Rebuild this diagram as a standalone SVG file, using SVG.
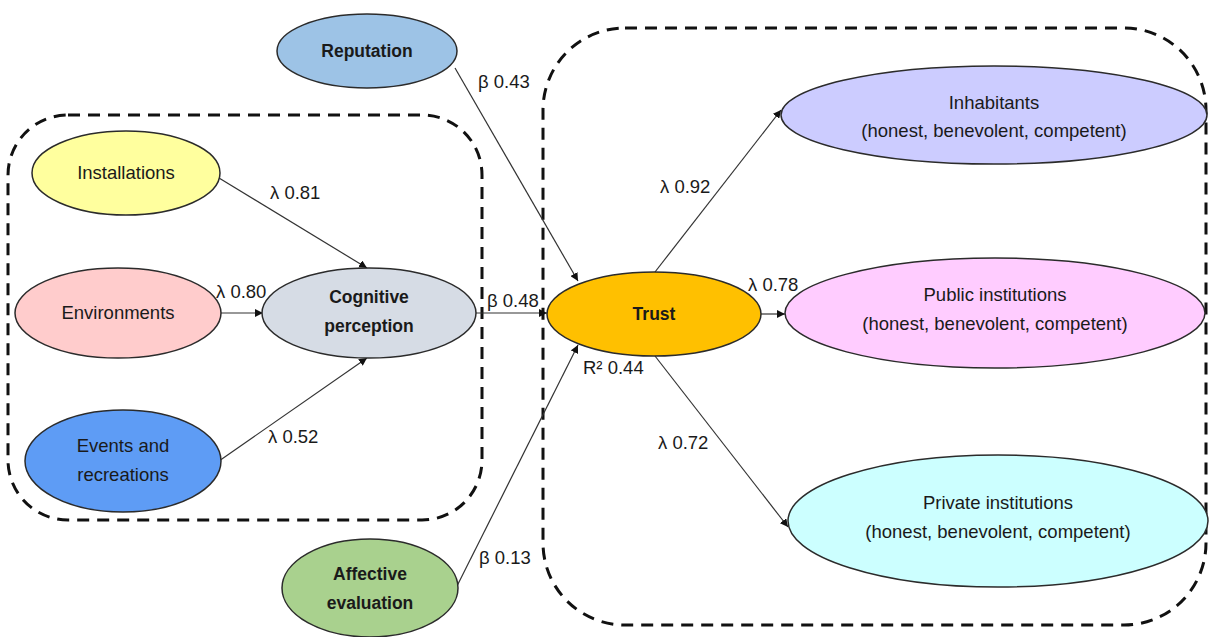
<svg xmlns="http://www.w3.org/2000/svg" width="1209" height="637" viewBox="0 0 1209 637">
<defs>
<marker id="arr" viewBox="0 0 10 10" refX="10" refY="5" markerWidth="8" markerHeight="8" markerUnits="userSpaceOnUse" orient="auto">
<path d="M0,0 L10,5 L0,10 z" fill="#111"/>
</marker>
<style>
.node{stroke:#2b2b2b;stroke-width:1.5}
.t{font-family:"Liberation Sans",Arial,sans-serif;font-size:18.5px;fill:#1a1a1a;text-anchor:middle}
.b{font-weight:bold;font-size:17.5px}
.lbl{font-family:"Liberation Sans",Arial,sans-serif;font-size:18.5px;fill:#1a1a1a}
.box{fill:none;stroke:#111;stroke-width:3;stroke-dasharray:12 8}
.c{stroke:#333;stroke-width:1.2;fill:none;marker-end:url(#arr)}
</style>
</defs>
<rect width="1209" height="637" fill="#fff"/>
<g id="groups">
<rect class="box" x="8" y="115" width="474" height="405" rx="60" ry="60"/>
<rect class="box" x="543" y="28" width="663" height="597" rx="82" ry="82"/>
</g>
<g id="connectors">
<line class="c" x1="455" y1="68" x2="578" y2="281"/>
<line class="c" x1="219" y1="178" x2="367" y2="268"/>
<line class="c" x1="221" y1="313" x2="263" y2="313"/>
<line class="c" x1="219" y1="461" x2="367" y2="358"/>
<line class="c" x1="476" y1="313" x2="547" y2="313"/>
<line class="c" x1="457" y1="586" x2="578" y2="345"/>
<line class="c" x1="655" y1="272" x2="781" y2="110"/>
<line class="c" x1="761" y1="314" x2="785" y2="314"/>
<line class="c" x1="655" y1="356" x2="788" y2="527"/>
</g>
<g id="labels">
<text class="lbl" x="478" y="88">β 0.43</text>
<text class="lbl" x="270" y="199">λ 0.81</text>
<text class="lbl" x="216" y="298">λ 0.80</text>
<text class="lbl" x="487" y="307">β 0.48</text>
<text class="lbl" x="268" y="443">λ 0.52</text>
<text class="lbl" x="479" y="564">β 0.13</text>
<text class="lbl" x="583" y="374">R² 0.44</text>
<text class="lbl" x="660" y="193">λ 0.92</text>
<text class="lbl" x="748" y="291">λ 0.78</text>
<text class="lbl" x="658" y="449">λ 0.72</text>
</g>
<g id="reputation">
<ellipse class="node" cx="367" cy="51" rx="90" ry="37" fill="#9dc3e6"/>
<text class="t b" x="367" y="57">Reputation</text>
</g>
<g id="installations">
<ellipse class="node" cx="126" cy="173" rx="94" ry="42" fill="#ffff9e"/>
<text class="t" x="126" y="179">Installations</text>
</g>
<g id="environments">
<ellipse class="node" cx="118" cy="313" rx="103" ry="45" fill="#ffcccc"/>
<text class="t" x="118" y="319">Environments</text>
</g>
<g id="events">
<ellipse class="node" cx="123" cy="461" rx="98" ry="51" fill="#5e9cf5"/>
<text class="t" x="123" y="452">Events and</text>
<text class="t" x="123" y="481">recreations</text>
</g>
<g id="cognitive">
<ellipse class="node" cx="369" cy="313" rx="107" ry="45" fill="#d6dce5"/>
<text class="t b" x="369" y="303">Cognitive</text>
<text class="t b" x="369" y="332">perception</text>
</g>
<g id="trust">
<ellipse class="node" cx="654" cy="314" rx="107" ry="42" fill="#ffc000"/>
<text class="t b" x="654" y="320">Trust</text>
</g>
<g id="affective">
<ellipse class="node" cx="370" cy="588" rx="88" ry="49" fill="#a9d18e"/>
<text class="t b" x="370" y="580">Affective</text>
<text class="t b" x="370" y="609">evaluation</text>
</g>
<g id="inhabitants">
<ellipse class="node" cx="994" cy="115" rx="213" ry="49" fill="#ccccff"/>
<text class="t" x="994" y="109">Inhabitants</text>
<text class="t" x="994" y="137">(honest, benevolent, competent)</text>
</g>
<g id="public">
<ellipse class="node" cx="995" cy="313" rx="210" ry="55" fill="#ffccff"/>
<text class="t" x="995" y="301">Public institutions</text>
<text class="t" x="995" y="330">(honest, benevolent, competent)</text>
</g>
<g id="private">
<ellipse class="node" cx="998" cy="521" rx="210" ry="66" fill="#ccffff"/>
<text class="t" x="998" y="509">Private institutions</text>
<text class="t" x="998" y="538">(honest, benevolent, competent)</text>
</g>
</svg>
